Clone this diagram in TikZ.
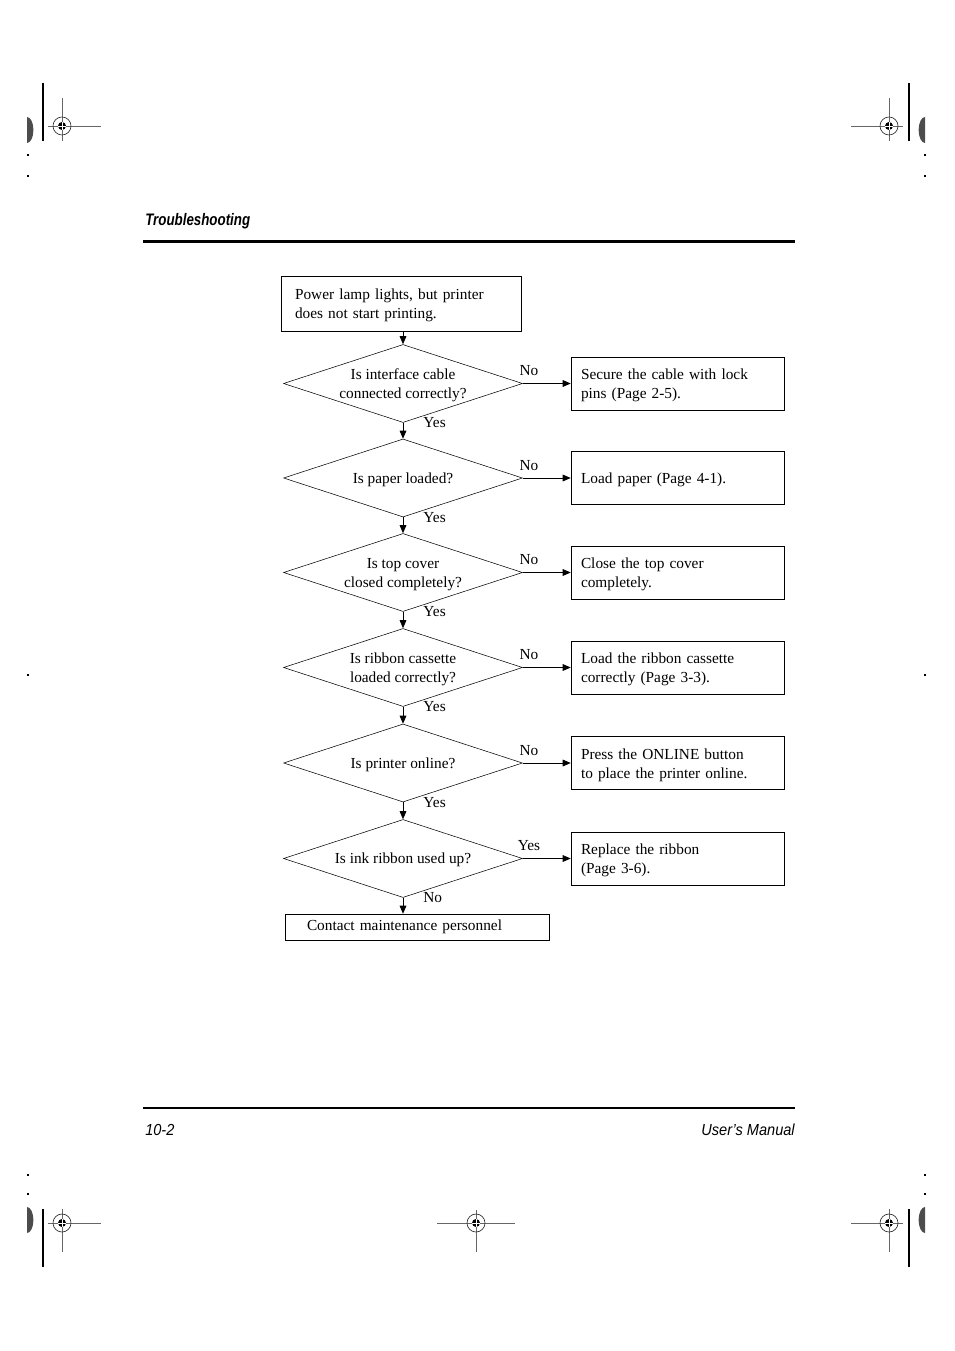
\documentclass[tikz,border=0pt]{standalone}
\usepackage{fontspec}
\setmainfont{Liberation Serif}
\newfontfamily\headfont{Liberation Sans}
\usetikzlibrary{shapes.geometric,arrows.meta}

\begin{document}
\begin{tikzpicture}[x=0.75pt,y=-0.75pt,
    every node/.style={font=\fontsize{11.5}{14.25}\selectfont}]
      \tikzstyle{startbox}=[draw, rectangle, text width=159pt, inner xsep=10.5pt, minimum height=41.25pt, align=left, execute at begin node={\rule{0pt}{11pt}}];
      \tikzstyle{question}=[draw, diamond, aspect=3, inner sep=0pt, minimum width=179.25pt, minimum height=58.5pt, text depth=0pt, align=center];
      \tikzstyle{answer}=[draw, rectangle, text width=144.75pt, inner xsep=7.5pt, minimum height=39.75pt, align=left, execute at begin node={\rule{0pt}{11pt}}];
      \tikzstyle{endbox}=[draw, rectangle, text width=165pt, inner xsep=16.5pt, minimum height=19.5pt, align=left];
      \tikzstyle{flow}=[line width=0.6pt, -{Triangle[length=6pt,width=5pt]}];
      \tikzstyle{lbl}=[inner sep=2pt];
      \tikzstyle{headtxt}=[inner sep=0pt, font=\headfont\bfseries\itshape\fontsize{12.5}{15}\selectfont];
      \tikzstyle{foottxt}=[inner sep=0pt, font=\headfont\itshape\fontsize{12}{14}\selectfont];
      \tikzstyle{hair}=[draw=black!60, line width=0.6pt];

      \useasboundingbox (0,0) rectangle (954,1351);

      % page head and foot
      \node[headtxt, anchor=west] (head) at (145,221) {\scalebox{0.8}[1]{Troubleshooting}};
      \draw[line width=2.25pt] (143,242) -- (795,242);
      \draw[line width=0.9pt] (143,1108) -- (795,1108);
      \node[foottxt, anchor=west] (page) at (145,1130) {\scalebox{0.91}[1]{10-2}};
      \node[foottxt, anchor=east] (title) at (795,1130) {\scalebox{0.91}[1]{User’s Manual}};

      % chart
      \node[startbox] (start) at (401,303.5) {Power lamp lights, but printer\\does not start printing.};

      \node[question] (q1) at (403,383.5) {Is interface cable\\connected correctly?};
      \node[question] (q2) at (403,478) {Is paper loaded?};
      \node[question] (q3) at (403,572.5) {Is top cover\\closed completely?};
      \node[question] (q4) at (403,667.5) {Is ribbon cassette\\loaded correctly?};
      \node[question] (q5) at (403,763) {Is printer online?};
      \node[question] (q6) at (403,858.5) {Is ink ribbon used up?};

      \node[answer] (a1) at (677.5,383.5) {Secure the cable with lock\\pins (Page 2-5).};
      \node[answer] (a2) at (677.5,478) {Load paper (Page 4-1).};
      \node[answer] (a3) at (677.5,572.5) {Close the top cover\\completely.};
      \node[answer] (a4) at (677.5,667.5) {Load the ribbon cassette\\correctly (Page 3-3).};
      \node[answer] (a5) at (677.5,763) {Press the ONLINE button\\to place the printer online.};
      \node[answer] (a6) at (677.5,858.5) {Replace the ribbon\\(Page 3-6).};

      \node[endbox] (stop) at (417,927) {Contact maintenance personnel};

      \draw[flow] (q1.north |- start.south) -- (q1.north);
      \foreach \i/\j in {1/2,2/3,3/4,4/5,5/6}
        \draw[flow] (q\i.south) -- node[lbl, at start, anchor=west, xshift=13pt] (yes\i) {Yes} (q\j.north);
      \draw[flow] (q6.south) -- node[lbl, at start, anchor=west, xshift=13pt] (no6) {No} (q6.south |- stop.north);
      \foreach \i in {1,...,5}
        \draw[flow] (q\i.east) -- node[lbl, pos=0.13, above=3.5pt] (no\i) {No} (a\i.west);
      \draw[flow] (q6.east) -- node[lbl, pos=0.13, above=3.5pt] (yes6) {Yes} (a6.west);

      % registration marks
      \foreach \cx/\cy/\l/\r/\u/\d in {62/126/14/39/28/15, 889/126/38/14/28/15, 62/1223/14/39/14/29, 476/1223/39/39/13/29, 889/1223/38/14/14/29} {
        \draw[hair] (\cx-\l,\cy) -- (\cx+\r,\cy);
        \draw[hair] (\cx,\cy-\u) -- (\cx,\cy+\d);
        \draw[black!80, line width=0.5pt] (\cx,\cy) circle[radius=6.75pt];
        \fill (\cx,\cy) circle[radius=3pt];
        \draw[white, line width=0.5pt] (\cx-4,\cy) -- (\cx+4,\cy) (\cx,\cy-4) -- (\cx,\cy+4);
      }
      \foreach \bx/\by in {43/83, 909/83, 43/1209, 909/1209}
        \draw[line width=1.2pt] (\bx,\by) -- (\bx,\by+58);
      \foreach \hx/\hy in {27/130, 925/130, 27/1220, 925/1220} {
        \begin{scope}
          \clip (27,\hy-20) rectangle (925,\hy+20);
          \fill[black!70] (\hx,\hy) ellipse[x radius=4.8pt, y radius=9.75pt];
        \end{scope}
      }
      \foreach \dx/\dy in {28/155, 28/176, 925/155, 925/176, 28/675, 925/675, 28/1175, 28/1194, 925/1175, 925/1194}
        \fill (\dx-1,\dy-0.6) rectangle (\dx+1,\dy+0.6);
    \end{tikzpicture}
\end{document}
